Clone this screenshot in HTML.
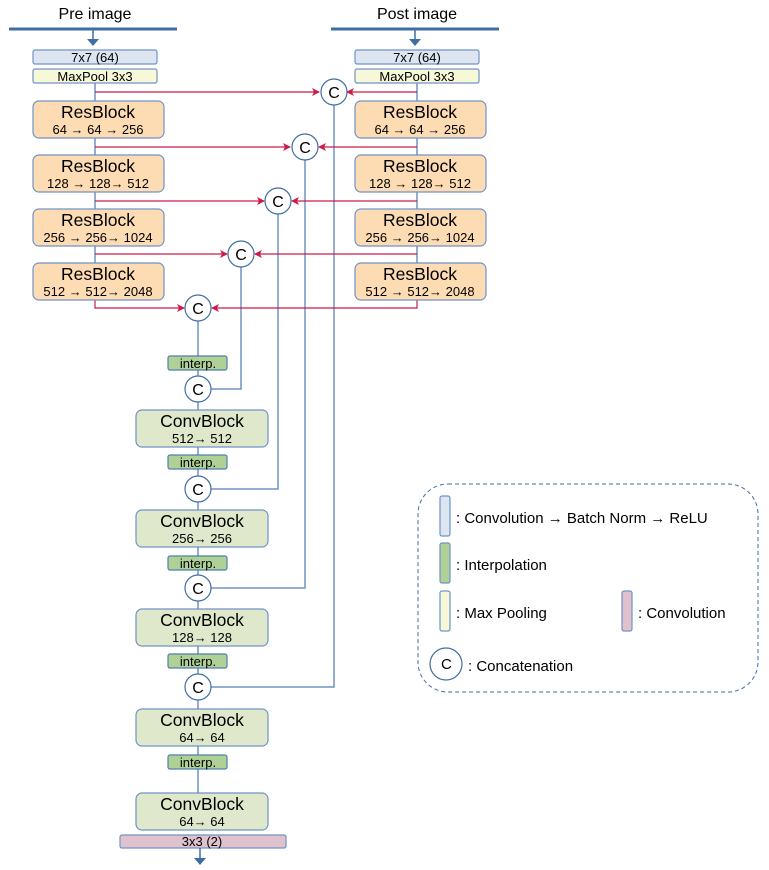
<!DOCTYPE html>
<html><head><meta charset="utf-8"><style>
html,body{margin:0;padding:0;background:#fff;}
svg{display:block;font-family:"Liberation Sans",sans-serif;}
</style></head><body>
<svg width="769" height="870" viewBox="0 0 769 870" xmlns="http://www.w3.org/2000/svg">
<defs>
<marker id="ar" markerWidth="8" markerHeight="8" refX="7" refY="4" orient="auto" markerUnits="userSpaceOnUse">
<path d="M0,0 L8,4 L0,8 L2,4 Z" fill="#cc1a4a"/>
</marker>
</defs>
<g fill="#000" text-anchor="middle">
<text x="95" y="19" font-size="16">Pre image</text>
<text x="417" y="19" font-size="16">Post image</text>
</g>
<line x1="9" y1="29" x2="177" y2="29" stroke="#3f6ea3" stroke-width="3"/>
<line x1="331" y1="29" x2="499" y2="29" stroke="#3f6ea3" stroke-width="3"/>
<g stroke="#3f6ea3" stroke-width="1.5">
<line x1="93" y1="29" x2="93" y2="40"/><line x1="415" y1="29" x2="415" y2="40"/>
</g>
<path d="M87,39 L99,39 L93,46 Z" fill="#3f6ea3"/>
<path d="M409,39 L421,39 L415,46 Z" fill="#3f6ea3"/>

<g stroke="#6f93c7" stroke-width="1.5" fill="none">
<line x1="95" y1="83" x2="95" y2="263"/>
<line x1="417" y1="83" x2="417" y2="263"/>
<line x1="198" y1="321" x2="198" y2="830"/>
<polyline points="334,105 334,687 211,687"/>
<polyline points="305,160 305,588 211,588"/>
<polyline points="278,214 278,489 211,489"/>
<polyline points="241,267 241,389 211,389"/>
</g>

<g stroke="#cc1a4a" stroke-width="1.2" fill="none">
<line x1="95" y1="92" x2="319" y2="92" marker-end="url(#ar)"/>
<line x1="417" y1="92" x2="347" y2="92" marker-end="url(#ar)"/>
<line x1="95" y1="147" x2="290" y2="147" marker-end="url(#ar)"/>
<line x1="417" y1="147" x2="319" y2="147" marker-end="url(#ar)"/>
<line x1="95" y1="201" x2="264" y2="201" marker-end="url(#ar)"/>
<line x1="417" y1="201" x2="292" y2="201" marker-end="url(#ar)"/>
<line x1="95" y1="254" x2="227" y2="254" marker-end="url(#ar)"/>
<line x1="417" y1="254" x2="255" y2="254" marker-end="url(#ar)"/>
<polyline points="95,300 95,308 184,308" marker-end="url(#ar)"/>
<polyline points="417,300 417,308 212,308" marker-end="url(#ar)"/>
</g>

<g stroke="#6f93c7" stroke-width="1.2">
<rect x="33" y="50" width="124" height="14" rx="2" fill="#dde6f0"/>
<rect x="33" y="69" width="124" height="14" rx="2" fill="#f7f8d8"/>
<rect x="355" y="50" width="124" height="14" rx="2" fill="#dde6f0"/>
<rect x="355" y="69" width="124" height="14" rx="2" fill="#f7f8d8"/>
</g>
<g font-size="13" text-anchor="middle">
<text x="95" y="62">7x7 (64)</text><text x="95" y="81">MaxPool 3x3</text>
<text x="417" y="62">7x7 (64)</text><text x="417" y="81">MaxPool 3x3</text>
</g>

<g stroke="#6f93c7" stroke-width="1.2" fill="#fddcb4">
<rect x="33" y="101" width="131" height="37" rx="6"/>
<rect x="33" y="155" width="131" height="37" rx="6"/>
<rect x="33" y="209" width="131" height="37" rx="6"/>
<rect x="33" y="263" width="131" height="37" rx="6"/>
<rect x="355" y="101" width="131" height="37" rx="6"/>
<rect x="355" y="155" width="131" height="37" rx="6"/>
<rect x="355" y="209" width="131" height="37" rx="6"/>
<rect x="355" y="263" width="131" height="37" rx="6"/>
</g>
<g text-anchor="middle">
<g font-size="17.5">
<text x="98" y="118">ResBlock</text><text x="98" y="172">ResBlock</text><text x="98" y="226">ResBlock</text><text x="98" y="280">ResBlock</text>
<text x="420" y="118">ResBlock</text><text x="420" y="172">ResBlock</text><text x="420" y="226">ResBlock</text><text x="420" y="280">ResBlock</text>
</g>
<g font-size="13">
<text x="98" y="134">64 → 64 → 256</text><text x="98" y="188">128 → 128→ 512</text><text x="98" y="242">256 → 256→ 1024</text><text x="98" y="296">512 → 512→ 2048</text>
<text x="420" y="134">64 → 64 → 256</text><text x="420" y="188">128 → 128→ 512</text><text x="420" y="242">256 → 256→ 1024</text><text x="420" y="296">512 → 512→ 2048</text>
</g>
</g>

<g stroke="#4f7fae" stroke-width="1.2" fill="#b0d196">
<rect x="168" y="356" width="59" height="14" rx="2"/>
<rect x="168" y="455" width="59" height="14" rx="2"/>
<rect x="168" y="556" width="59" height="14" rx="2"/>
<rect x="168" y="654" width="59" height="14" rx="2"/>
<rect x="168" y="755" width="59" height="14" rx="2"/>
</g>
<g font-size="13" text-anchor="middle">
<text x="198" y="368">interp.</text><text x="198" y="467">interp.</text><text x="198" y="568">interp.</text><text x="198" y="666">interp.</text><text x="198" y="767">interp.</text>
</g>

<g stroke="#6f93c7" stroke-width="1.2" fill="#dfe8cb">
<rect x="136" y="410" width="132" height="37" rx="6"/>
<rect x="136" y="510" width="132" height="37" rx="6"/>
<rect x="136" y="609" width="132" height="37" rx="6"/>
<rect x="136" y="709" width="132" height="37" rx="6"/>
<rect x="136" y="793" width="132" height="37" rx="6"/>
</g>
<g text-anchor="middle">
<g font-size="17.5">
<text x="202" y="427">ConvBlock</text><text x="202" y="527">ConvBlock</text><text x="202" y="626">ConvBlock</text><text x="202" y="726">ConvBlock</text><text x="202" y="810">ConvBlock</text>
</g>
<g font-size="13">
<text x="202" y="443">512→ 512</text><text x="202" y="543">256→ 256</text><text x="202" y="642">128→ 128</text><text x="202" y="742">64→ 64</text><text x="202" y="826">64→ 64</text>
</g>
</g>
<rect x="120" y="835" width="166" height="13" rx="2" fill="#e0c2cc" stroke="#6f93c7" stroke-width="1.2"/>
<text x="202" y="846" font-size="13" text-anchor="middle">3x3 (2)</text>
<line x1="200" y1="848" x2="200" y2="859" stroke="#3f6ea3" stroke-width="1.5"/>
<path d="M194,858 L206,858 L200,865 Z" fill="#3f6ea3"/>

<g stroke="#3f6ea3" stroke-width="1.2" fill="#fff">
<circle cx="334" cy="92" r="13"/><circle cx="305" cy="147" r="13"/><circle cx="278" cy="201" r="13"/><circle cx="241" cy="254" r="13"/><circle cx="198" cy="308" r="13"/>
<circle cx="198" cy="389" r="13"/><circle cx="198" cy="489" r="13"/><circle cx="198" cy="588" r="13"/><circle cx="198" cy="687" r="13"/>
</g>
<g font-size="16" text-anchor="middle">
<text x="334" y="98">C</text><text x="305" y="153">C</text><text x="278" y="207">C</text><text x="241" y="260">C</text><text x="198" y="314">C</text>
<text x="198" y="395">C</text><text x="198" y="495">C</text><text x="198" y="594">C</text><text x="198" y="693">C</text>
</g>

<rect x="418" y="484" width="340" height="208" rx="30" fill="none" stroke="#3f6ea3" stroke-width="1" stroke-dasharray="4,3"/>
<g stroke="#6f93c7" stroke-width="1.2">
<rect x="440" y="496" width="10" height="40" rx="2" fill="#dde6f0"/>
<rect x="440" y="543" width="10" height="40" rx="2" fill="#b0d196"/>
<rect x="440" y="591" width="10" height="40" rx="2" fill="#f7f8d8"/>
<rect x="622" y="591" width="10" height="40" rx="2" fill="#e0c2cc"/>
</g>
<circle cx="446" cy="664" r="16" fill="#fff" stroke="#3f6ea3" stroke-width="1.2"/>
<g font-size="15">
<text x="456" y="523">: Convolution → Batch Norm → ReLU</text>
<text x="456" y="570">: Interpolation</text>
<text x="456" y="618">: Max Pooling</text>
<text x="638" y="618">: Convolution</text>
<text x="441" y="669">C</text>
<text x="468" y="671">: Concatenation</text>
</g>
</svg>
</body></html>
